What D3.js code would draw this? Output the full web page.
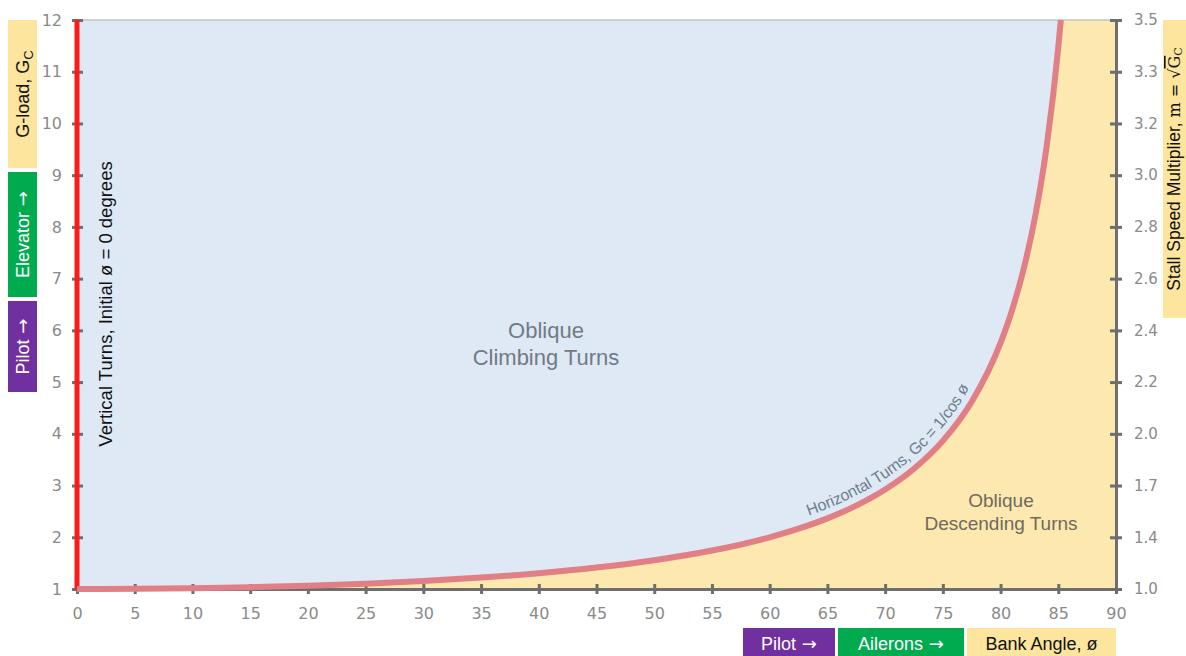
<!DOCTYPE html>
<html><head><meta charset="utf-8">
<script src="https://cdn.jsdelivr.net/npm/d3@7"></script>
<style>body{margin:0;background:#fff}svg{display:block}</style>
</head><body>
<svg id="c" width="1186" height="656"></svg>
<script>
// Data
const bankAngles = [0,5,10,15,20,25,30,35,40,45,50,55,60,62.5,65,67.5,70,72.5,75,77.5,80,81,82,83,84,85,85.22];
const gLoads     = [1,1.004,1.015,1.035,1.064,1.103,1.155,1.221,1.305,1.414,1.556,1.743,2.0,2.166,2.366,2.613,2.924,3.326,3.864,4.620,5.759,6.392,7.185,8.206,9.567,11.474,12];
const xTicks = [0,5,10,15,20,25,30,35,40,45,50,55,60,65,70,75,80,85,90];
const yTicks = [1,2,3,4,5,6,7,8,9,10,11,12];
const rightTickLabels = ["1.0","1.4","1.7","2.0","2.2","2.4","2.6","2.8","3.0","3.2","3.3","3.5"];

const svg = d3.select("#c");
const x = d3.scaleLinear([0,90],[77,1116]);
const y = d3.scaleLinear([1,12],[589,20]);
const pts = bankAngles.map((a,i)=>({a, g:gLoads[i]}));
const fillPts = pts.concat([{a:90,g:12}]);
const SANS = "Liberation Sans, Arial, sans-serif";
const TICKF = "DejaVu Sans, Verdana, sans-serif";

// backgrounds
svg.append("rect").attr("x",x(0)).attr("y",y(12)).attr("width",x(90)-x(0)).attr("height",y(1)-y(12)).attr("fill","#dee9f5");
svg.append("path").datum(fillPts)
  .attr("d", d3.area().x(d=>x(d.a)).y0(y(1)).y1(d=>y(d.g)).curve(d3.curveMonotoneX))
  .attr("fill","#fde8b0");

// top line
svg.append("line").attr("x1",x(0)).attr("x2",x(90)).attr("y1",y(12)).attr("y2",y(12)).attr("stroke","#c4c4c4").attr("stroke-width",1.5);

// bottom axis
const xa = svg.append("g").attr("transform",`translate(0,${y(1)})`)
  .call(d3.axisBottom(x).tickValues(xTicks).tickSize(5).tickPadding(14));
xa.select(".domain").attr("stroke","#6e6e6e").attr("stroke-width",3);
xa.selectAll(".tick line").attr("y1",-5).attr("y2",5).attr("stroke","#6e6e6e").attr("stroke-width",3);
xa.selectAll(".tick text").attr("fill","#8a8a8a").attr("font-family",TICKF).attr("font-size",16);

// left axis
const ya = svg.append("g").attr("transform",`translate(${x(0)},0)`)
  .call(d3.axisLeft(y).tickValues(yTicks).tickSize(5).tickPadding(10));
ya.select(".domain").remove();
ya.selectAll(".tick line").attr("x1",-5).attr("x2",6).attr("stroke","#6e6e6e").attr("stroke-width",3);
ya.selectAll(".tick text").attr("fill","#8a8a8a").attr("font-family",TICKF).attr("font-size",16);

// right axis
const ra = svg.append("g").attr("transform",`translate(${x(90)},0)`)
  .call(d3.axisRight(y).tickValues(yTicks).tickSize(5).tickPadding(13).tickFormat((d,i)=>rightTickLabels[i]));
ra.select(".domain").attr("stroke","#6e6e6e").attr("stroke-width",3);
ra.selectAll(".tick line").attr("x1",-6).attr("x2",6).attr("stroke","#6e6e6e").attr("stroke-width",3);
ra.selectAll(".tick text").attr("fill","#8a8a8a").attr("font-family",TICKF).attr("font-size",15);

// red vertical line
svg.append("line").attr("x1",x(0)).attr("x2",x(0)).attr("y1",y(12)).attr("y2",y(1)).attr("stroke","#ff1a1a").attr("stroke-width",5);

// curve
const linePath = d3.line().x(d=>x(d.a)).y(d=>y(d.g)).curve(d3.curveMonotoneX);
svg.append("path").attr("id","curve").datum(pts).attr("d",linePath)
  .attr("fill","none").attr("stroke","#e07f85").attr("stroke-width",6).attr("stroke-linecap","butt");

// curve label
const curveNode = svg.select("#curve").node();
const total = curveNode.getTotalLength();
let lo=0, hi=total;
for(let i=0;i<40;i++){const m=(lo+hi)/2; if(curveNode.getPointAtLength(m).x<812) lo=m; else hi=m;}
svg.append("text").attr("font-family",SANS).attr("font-size",16).attr("fill","#6f7c8b").attr("dy",-9)
  .append("textPath").attr("href","#curve").attr("startOffset",lo)
  .text("Horizontal Turns, Gᴄ = 1/cos ø");

// region labels
const reg = (tx,ty,lines,size,col,lh)=>{
  const t = svg.append("text").attr("text-anchor","middle").attr("font-family",SANS).attr("font-size",size).attr("fill",col);
  lines.forEach((l,i)=>t.append("tspan").attr("x",tx).attr("y",ty+i*lh).text(l));
};
reg(546,338,["Oblique","Climbing Turns"],22,"#737a83",27);
reg(1001,507,["Oblique","Descending Turns"],19,"#6f6a5c",23);

// vertical turns label
svg.append("text").attr("transform",`translate(112,304) rotate(-90)`).attr("text-anchor","middle")
  .attr("font-family",SANS).attr("font-size",18.5).attr("fill","#111")
  .text("Vertical Turns, Initial ø = 0 degrees");

const arrow = t=>t.append("tspan").attr("font-family","DejaVu Sans, sans-serif").text(" →");

// left boxes (rotated)
const vbox = (x0,y0,w,h,fill,col,parts)=>{
  svg.append("rect").attr("x",x0).attr("y",y0).attr("width",w).attr("height",h).attr("fill",fill);
  const t = svg.append("text").attr("transform",`translate(${x0+w/2+6.5},${y0+h/2}) rotate(-90)`).attr("text-anchor","middle")
    .attr("font-family",SANS).attr("font-size",18).attr("fill",col);
  parts(t);
};
vbox(8,20,29,148,"#fde59e","#111",t=>{t.append("tspan").text("G-load, G");t.append("tspan").attr("font-size",13).attr("dy",4).text("C");});
vbox(8,172,29,125,"#00ab50","#fff",t=>{t.append("tspan").text("Elevator");arrow(t);});
vbox(8,301,29,91,"#7030a0","#fff",t=>{t.append("tspan").text("Pilot");arrow(t);});

// right box
svg.append("rect").attr("x",1163).attr("y",20).attr("width",30).attr("height",298).attr("fill","#fde59e");
const rt = svg.append("text").attr("transform",`translate(1180,${20+298/2}) rotate(-90)`).attr("text-anchor","middle")
  .attr("font-family",SANS).attr("font-size",17.5).attr("fill","#111");
rt.append("tspan").text("Stall Speed Multiplier, ");
rt.append("tspan").attr("font-family","DejaVu Serif, serif").attr("font-size",16).text("m = √");
rt.append("tspan").attr("font-family","DejaVu Serif, serif").attr("font-size",16).attr("text-decoration","overline").text("G");
rt.append("tspan").attr("font-family","DejaVu Serif, serif").attr("font-size",11).attr("dy",2).text("C");

// bottom boxes
const hbox = (x0,w,fill,col,label,arr)=>{
  svg.append("rect").attr("x",x0).attr("y",628).attr("width",w).attr("height",30).attr("fill",fill);
  const t = svg.append("text").attr("x",x0+w/2).attr("y",650).attr("text-anchor","middle")
    .attr("font-family",SANS).attr("font-size",18).attr("fill",col);
  t.append("tspan").text(label);
  if(arr) arrow(t);
};
hbox(743,92,"#7030a0","#fff","Pilot",true);
hbox(838,126,"#00ab50","#fff","Ailerons",true);
hbox(967,149,"#fde59e","#111","Bank Angle, ø",false);
</script>
</body></html>
